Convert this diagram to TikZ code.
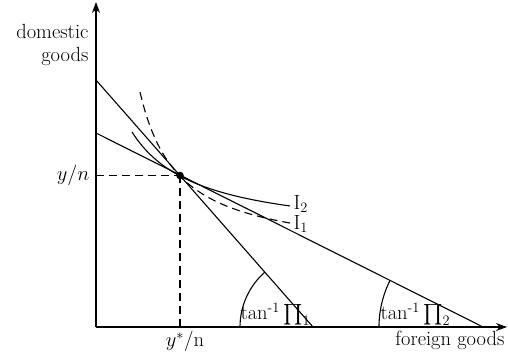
\documentclass[tikz,border=0pt]{standalone}
\usepackage{fix-cm}
\usepackage{amsmath}
\usepackage{amssymb}
\usepackage{xcolor}
\usepackage{tikz}
\usetikzlibrary{arrows.meta, calc}

\begin{document}
\begin{tikzpicture}[x=1pt, y=1pt, line width=1.1pt,
  lbl/.style={font=\fontsize{20.5}{23}\selectfont, inner sep=1pt},
  dsh/.style={dash pattern=on 8pt off 5pt}]
  \useasboundingbox (-96,-29) rectangle (412,327);

  % Axes
  \coordinate (O) at (0,0);
  \coordinate (ytip) at (0,325);
  \coordinate (xtip) at (411,0);
  \draw[-{Stealth[length=11pt,width=8pt]}] (O) -- (ytip);
  \draw[-{Stealth[length=11pt,width=8pt]}] (O) -- (xtip);
  \node[lbl, anchor=east, align=right] (dom) at (-6,282) {domestic\\goods};
  \node[lbl, anchor=north east] (fgn) at (410,-3) {foreign goods};

  % Budget lines
  \coordinate (A1) at (0,247);
  \coordinate (B1) at (217,0);
  \coordinate (A2) at (0,194);
  \coordinate (B2) at (387,0);
  \draw (A1) -- (B1);
  \draw (A2) -- (B2);

  % Equilibrium point
  \coordinate (P) at (84,151.5);
  \coordinate (Py) at (0,151.5);
  \coordinate (Px) at (84,0);
  \draw[dsh] (Py) -- (P);
  \draw[dsh] (P) -- (Px);
  \fill (P) circle (3.8);
  \node[lbl, anchor=east] (yn) at (-5,151.5) {$y/n$};
  \node[lbl, anchor=north] (ysn) at (89,-3) {$y^*$/n};

  % Indifference curves
  \draw[domain=36:194, samples=60] plot (\x, {89.7+7046/(\x+30.9)});
  \draw[dsh, domain=44:194, samples=60] plot (\x, {70.5+6302/(\x-5.68)});
  \node[lbl, anchor=west] (i2) at (196,123) {I$_2$};
  \node[lbl, anchor=west] (i1) at (196,103) {I$_1$};

  % Angles
  \draw ($(B1)+(-73,0)$) arc[start angle=180, end angle=131.3, radius=73];
  \draw ($(B2)+(-104,0)$) arc[start angle=180, end angle=153.4, radius=104];
  \node[lbl, anchor=south west] (t1) at (143,0) {tan$^{\text{-}1}\prod\nolimits_1$};
  \node[lbl, anchor=south west] (t2) at (283,0) {tan$^{\text{-}1}\prod\nolimits_2$};
\end{tikzpicture}
\end{document}
